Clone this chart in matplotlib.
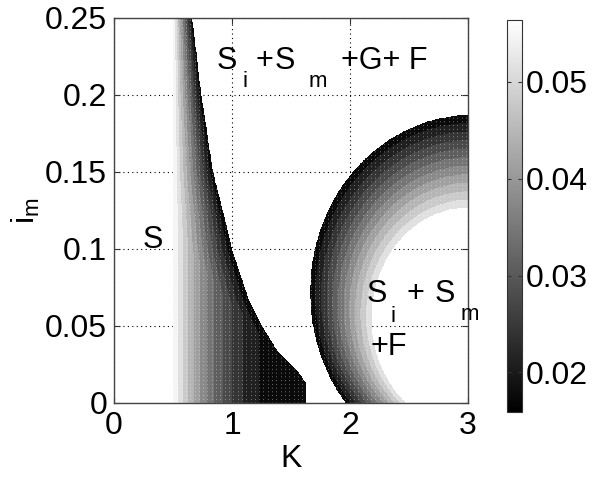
import numpy as np
import matplotlib
matplotlib.use("Agg")
import matplotlib.pyplot as plt
from matplotlib import cm, colors
from matplotlib.path import Path

plt.rcParams['font.family'] = ['Liberation Sans', 'DejaVu Sans']
plt.rcParams['mathtext.fontset'] = 'custom'
plt.rcParams['mathtext.rm'] = 'Liberation Sans'
plt.rcParams['mathtext.it'] = 'Liberation Sans'

# colour scale of the colorbar
vmin, vmax = 0.0159, 0.0564
cbar_ticks = [0.02, 0.03, 0.04, 0.05]

# left strip: its right edge K as a function of i_m
bound_i = [0.0, 0.013, 0.020, 0.034, 0.050, 0.067, 0.099, 0.119, 0.149, 0.199, 0.25]
bound_K = [1.62, 1.62, 1.56, 1.38, 1.25, 1.14, 1.00, 0.94, 0.84, 0.74, 0.66]
strip_left = 0.5
# value across the strip near i_m = 0
prof_K = [0.50, 0.545, 0.59, 0.645, 0.73, 0.84, 0.91, 1.00, 1.11, 1.24, 1.62]
prof_v = [0.0560, 0.0525, 0.049, 0.0445, 0.039, 0.033, 0.030, 0.026, 0.022, 0.019, 0.0162]
# darkening towards the boundary (fraction of strip width from the boundary)
edge_f = [0.0, 1.0]
edge_v = [0.0159, 0.0564]

# right ring region: outer edge (index 0) and inner edge (index 1) as ellipses
ring_Kc = [3.04, 3.00]
ring_ic = [0.072, 0.055]
ring_a = [1.376, 0.82]
ring_b = [0.115, 0.072]
ring_v = [0.0159, 0.0525]

K = np.linspace(0, 3, 601)
im = np.linspace(0, 0.25, 501)
KK, II = np.meshgrid(K, im)

# strip field
Kb = np.interp(II, bound_i, bound_K)
frac = (Kb - KK) / (Kb - strip_left)
strip = np.minimum(np.interp(KK, prof_K, prof_v), np.interp(frac, edge_f, edge_v))
in_strip = (KK >= strip_left) & (KK <= Kb)

# ring field: count nested ellipses containing each point
nt = 120
count = np.zeros_like(KK)
for t in np.linspace(0, 1, nt):
    kc = np.interp(t, [0, 1], ring_Kc)
    ic = np.interp(t, [0, 1], ring_ic)
    a = np.interp(t, [0, 1], ring_a)
    b = np.interp(t, [0, 1], ring_b)
    count += (((KK - kc) / a) ** 2 + ((II - ic) / b) ** 2 <= 1)
in_outer = ((KK - ring_Kc[0]) / ring_a[0]) ** 2 + ((II - ring_ic[0]) / ring_b[0]) ** 2 <= 1
in_inner = ((KK - ring_Kc[1]) / ring_a[1]) ** 2 + ((II - ring_ic[1]) / ring_b[1]) ** 2 <= 1
ring = np.interp(count / nt, [0, 1], ring_v)
in_ring = in_outer & ~in_inner

V = np.full(KK.shape, np.nan)
V[in_strip] = strip[in_strip]
V[in_ring] = ring[in_ring]

fig = plt.figure(figsize=(6.12, 4.86), dpi=100)
ax = fig.add_axes([0.1863, 0.1708, 0.5784, 0.7922])
norm = colors.Normalize(vmin=vmin, vmax=vmax)
levels = np.linspace(vmin, vmax, 13)
cs = ax.contourf(KK, II, V, levels=levels, cmap='gray', norm=norm, zorder=1)

# faint white dotted columns seen inside the filled areas of the original
clip = Path.make_compound_path(*[p for p in cs.get_paths() if len(p.vertices)])
for kx in np.arange(0.5, 3.0, 0.0365):
    ln = ax.axvline(kx, color='white', linestyle=(0, (1, 3.5)), linewidth=0.6,
                    alpha=0.55, zorder=1.5)
    ln.set_clip_path(clip, ax.transData)

ax.set_xlim(0, 3)
ax.set_ylim(0, 0.25)
ax.set_xticks([0, 1, 2, 3])
ax.set_yticks([0, 0.05, 0.1, 0.15, 0.2, 0.25])
ax.set_yticklabels(['0', '0.05', '0.1', '0.15', '0.2', '0.25'])
ax.set_axisbelow(True)
ax.grid(True, color='black', linestyle=(0, (1, 3)), linewidth=0.8)
ax.tick_params(direction='in', length=4, labelsize=23, top=True, right=True, color='#333333')
ax.tick_params(axis='x', pad=6)
ax.tick_params(axis='y', pad=5)
for s in ax.spines.values():
    s.set_color('#444444')
    s.set_linewidth(1)

ax.set_xlabel('K', fontsize=23, labelpad=2)
ax.set_ylabel(r'i$_\mathrm{m}$', fontsize=23, labelpad=2)

big = 22
small = 16
# region labels, written piece by piece like the MATLAB tex output
ax.text(0.87, 0.2169, 'S', fontsize=big, va='baseline')
ax.text(1.085, 0.2052, 'i', fontsize=small, va='baseline')
ax.text(1.195, 0.2169, '+', fontsize=big, va='baseline')
ax.text(1.365, 0.2169, 'S', fontsize=big, va='baseline')
ax.text(1.65, 0.2052, 'm', fontsize=small, va='baseline')
ax.text(1.925, 0.2169, '+G+ F', fontsize=big, va='baseline')

ax.text(0.246, 0.1006, 'S', fontsize=big, va='baseline')

ax.text(2.14, 0.0656, 'S', fontsize=big, va='baseline')
ax.text(2.345, 0.0526, 'i', fontsize=small, va='baseline')
ax.text(2.475, 0.0656, '+', fontsize=big, va='baseline')
ax.text(2.72, 0.0656, 'S', fontsize=big, va='baseline')
ax.text(2.94, 0.0539, 'm', fontsize=small, va='baseline')
ax.text(2.17, 0.0312, '+F', fontsize=big, va='baseline')

cax = fig.add_axes([0.8284, 0.1523, 0.0245, 0.8066])
sm = cm.ScalarMappable(norm=norm, cmap='gray')
cb = fig.colorbar(sm, cax=cax)
cb.set_ticks(cbar_ticks)
cb.set_ticklabels(['0.02', '0.03', '0.04', '0.05'])
cax.tick_params(direction='in', length=3, labelsize=23, left=True, right=True, pad=3, color='#333333')
cb.outline.set_edgecolor('#333333')
cb.outline.set_linewidth(0.8)

fig.savefig('out.png', dpi=100)
